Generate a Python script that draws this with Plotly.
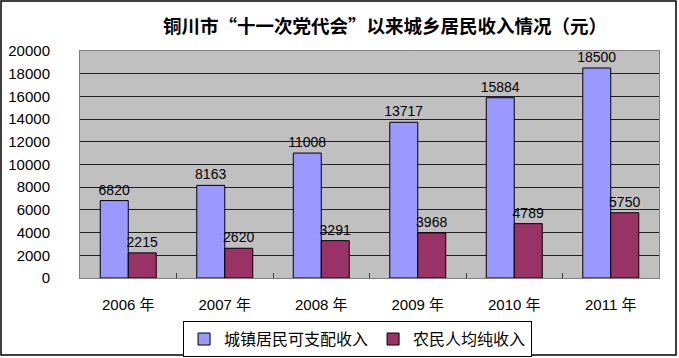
import plotly.graph_objects as go

years = ["2006 年", "2007 年", "2008 年", "2009 年", "2010 年", "2011 年"]
urban = [6820, 8163, 11008, 13717, 15884, 18500]
rural = [2215, 2620, 3291, 3968, 4789, 5750]
series_names = ["城镇居民可支配收入", "农民人均纯收入"]
yticks = list(range(0, 20001, 2000))

FONT = "Liberation Sans, Noto Sans CJK SC, sans-serif"

fig = go.Figure()
fig.add_trace(go.Bar(
    x=years, y=urban, name=series_names[0],
    marker=dict(color="#9999FF", line=dict(color="black", width=1)),
    text=[str(v) for v in urban], textposition="outside", constraintext="none",
    textfont=dict(size=14, color="black", family=FONT), cliponaxis=False,
))
fig.add_trace(go.Bar(
    x=years, y=rural, name=series_names[1],
    marker=dict(color="#993366", line=dict(color="black", width=1)),
    text=[str(v) for v in rural], textposition="outside", constraintext="none",
    textfont=dict(size=14, color="black", family=FONT), cliponaxis=False,
))

fig.update_layout(
    width=679, height=358,
    margin=dict(l=80, r=20, t=51, b=80, autoexpand=False),
    paper_bgcolor="white", plot_bgcolor="#C0C0C0",
    barmode="group", bargap=0.42, bargroupgap=0,
    font=dict(family=FONT, size=13, color="black"),
    title=dict(text="<b>铜川市“十一次党代会”以来城乡居民收入情况（元）</b>",
               x=0.567, xanchor="center", y=0.925, yanchor="middle",
               font=dict(family="Noto Sans CJK SC", size=18.5, color="black")),
    showlegend=True,
    legend=dict(orientation="h", x=0.178, y=-0.19, xanchor="left", yanchor="top",
                bordercolor="black", borderwidth=1, bgcolor="white",
                font=dict(size=16, family="Noto Sans CJK SC"),
                itemwidth=30, traceorder="normal", tracegroupgap=0),
)
fig.update_yaxes(range=[0, 20000], tickvals=yticks, ticktext=[str(v) for v in yticks],
                 showgrid=True, gridcolor="#202020", gridwidth=1,
                 showline=True, linecolor="#808080", mirror=True,
                 ticks="", ticklabelstandoff=26, zeroline=False, automargin=False,
                 tickfont=dict(size=15))
fig.update_xaxes(showline=True, linecolor="#808080", mirror=True,
                 ticks="inside", tickson="boundaries", ticklen=5, tickcolor="#404040",
                 ticklabelstandoff=13, tickfont=dict(size=15), automargin=False)

fig.add_shape(type="rect", xref="paper", yref="paper",
              x0=-79/579, x1=1+17/579, y0=-77/227, y1=1+50/227,
              line=dict(color="black", width=1.5), layer="below")

fig.write_html("out.html", config={"displayModeBar": False},
               post_script="document.body.style.margin='0';")
